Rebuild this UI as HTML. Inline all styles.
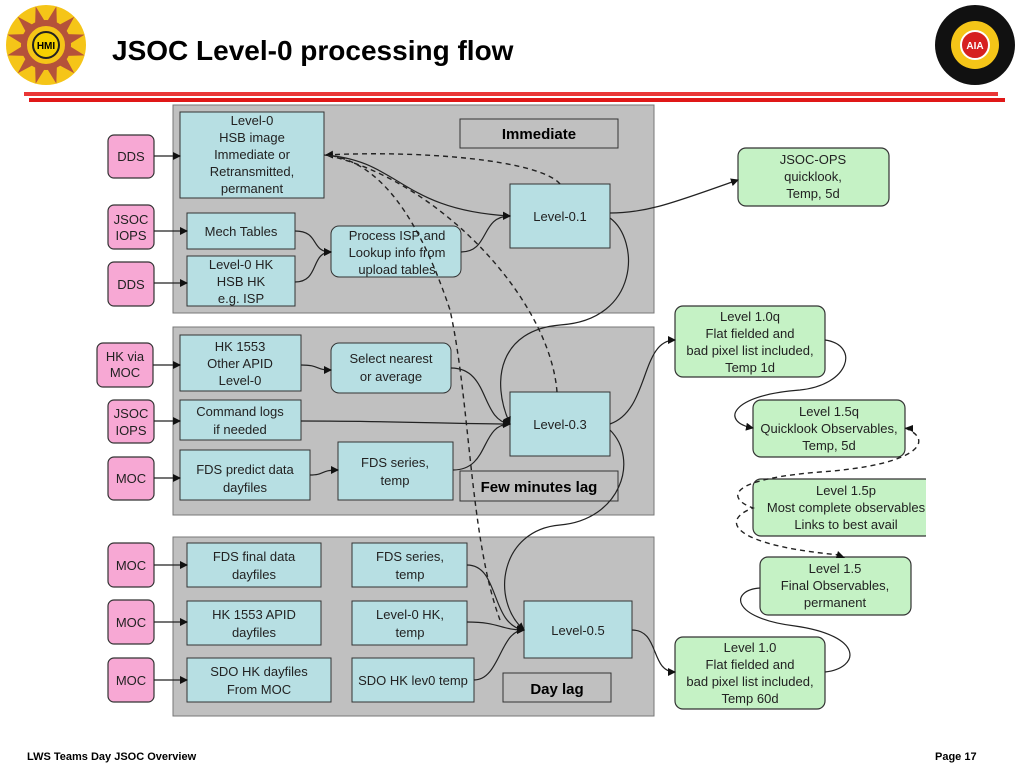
<!DOCTYPE html>
<html><head><meta charset="utf-8"><style>
body{margin:0;background:#fff;}
svg{display:block;font-family:"Liberation Sans",sans-serif;}
</style></head><body>
<svg width="1024" height="768" viewBox="0 0 1024 768" xmlns="http://www.w3.org/2000/svg">
<defs>
<marker id="a" markerWidth="8" markerHeight="8" refX="7" refY="4" orient="auto" markerUnits="userSpaceOnUse"><path d="M0,0 L8,4 L0,8 z" fill="#111"/></marker>
</defs>
<!-- logos -->
<g transform="translate(46,45)">
<circle r="40" fill="#f5c518"/>
<g fill="#b5523a">
<path d="M0,-40 L6,-20 L-6,-20z" transform="rotate(15)"/><path d="M0,-40 L6,-20 L-6,-20z" transform="rotate(45)"/><path d="M0,-40 L6,-20 L-6,-20z" transform="rotate(75)"/><path d="M0,-40 L6,-20 L-6,-20z" transform="rotate(105)"/><path d="M0,-40 L6,-20 L-6,-20z" transform="rotate(135)"/><path d="M0,-40 L6,-20 L-6,-20z" transform="rotate(165)"/><path d="M0,-40 L6,-20 L-6,-20z" transform="rotate(195)"/><path d="M0,-40 L6,-20 L-6,-20z" transform="rotate(225)"/><path d="M0,-40 L6,-20 L-6,-20z" transform="rotate(255)"/><path d="M0,-40 L6,-20 L-6,-20z" transform="rotate(285)"/><path d="M0,-40 L6,-20 L-6,-20z" transform="rotate(315)"/><path d="M0,-40 L6,-20 L-6,-20z" transform="rotate(345)"/>
</g>
<circle r="22" fill="#f5c518" stroke="#b5523a" stroke-width="6"/>
<circle r="13" fill="#f5d000" stroke="#222" stroke-width="2"/>
<text y="4" text-anchor="middle" font-size="10" font-weight="bold">HMI</text>
</g>
<g transform="translate(975,45)">
<circle r="40" fill="#111"/>
<circle r="24" fill="#f5c518"/>
<circle r="14" fill="#d62020" stroke="#fff" stroke-width="2"/>
<text y="4" text-anchor="middle" font-size="10" font-weight="bold" fill="#fff">AIA</text>
</g>
<text x="112" y="60" font-size="28" font-weight="bold" fill="#000">JSOC Level-0 processing flow</text>
<rect x="24" y="92" width="974" height="4" fill="#e82020" opacity="0.9"/>
<rect x="29" y="98" width="976" height="4" fill="#e01818"/>
<!-- panels -->
<g fill="#c0c0c0" stroke="#777" stroke-width="1">
<rect x="173" y="105" width="481" height="208"/>
<rect x="173" y="327" width="481" height="188"/>
<rect x="173" y="537" width="481" height="179"/>
</g>
<!-- pink -->
<g fill="#f7a8d4" stroke="#333" stroke-width="1.2">
<rect x="108" y="135" width="46" height="43" rx="6"/>
<rect x="108" y="205" width="46" height="44" rx="6"/>
<rect x="108" y="262" width="46" height="44" rx="6"/>
<rect x="97" y="343" width="56" height="44" rx="6"/>
<rect x="108" y="400" width="46" height="43" rx="6"/>
<rect x="108" y="457" width="46" height="43" rx="6"/>
<rect x="108" y="543" width="46" height="44" rx="6"/>
<rect x="108" y="600" width="46" height="44" rx="6"/>
<rect x="108" y="658" width="46" height="44" rx="6"/>
</g>
<!-- blue -->
<g fill="#b7dfe3" stroke="#333" stroke-width="1">
<rect x="180" y="112" width="144" height="86"/>
<rect x="187" y="213" width="108" height="36"/>
<rect x="187" y="256" width="108" height="50"/>
<rect x="331" y="226" width="130" height="51" rx="8"/>
<rect x="510" y="184" width="100" height="64"/>
<rect x="180" y="335" width="121" height="56"/>
<rect x="331" y="343" width="120" height="50" rx="8"/>
<rect x="180" y="400" width="121" height="40"/>
<rect x="510" y="392" width="100" height="64"/>
<rect x="180" y="450" width="130" height="50"/>
<rect x="338" y="442" width="115" height="58"/>
<rect x="187" y="543" width="134" height="44"/>
<rect x="352" y="543" width="115" height="44"/>
<rect x="187" y="601" width="134" height="44"/>
<rect x="352" y="601" width="115" height="44"/>
<rect x="187" y="658" width="144" height="44"/>
<rect x="352" y="658" width="122" height="44"/>
<rect x="524" y="601" width="108" height="57"/>
</g>
<g fill="#c0c0c0" stroke="#333" stroke-width="1">
<rect x="460" y="119" width="158" height="29"/>
<rect x="460" y="471" width="158" height="30"/>
<rect x="503" y="673" width="108" height="29"/>
</g>
<!-- green -->
<g fill="#c5f2c5" stroke="#333" stroke-width="1.2">
<rect x="738" y="148" width="151" height="58" rx="8"/>
<rect x="675" y="306" width="150" height="71" rx="8"/>
<rect x="753" y="400" width="152" height="57" rx="8"/>
<rect x="753" y="479" width="180" height="57" rx="8"/>
<rect x="760" y="557" width="151" height="58" rx="8"/>
<rect x="675" y="637" width="150" height="72" rx="8"/>
</g>
<!-- connectors solid -->
<g fill="none" stroke="#222" stroke-width="1.2" marker-end="url(#a)">
<path d="M154,156 L180,156"/>
<path d="M154,231 L187,231"/>
<path d="M154,283 L187,283"/>
<path d="M153,365 L180,365"/>
<path d="M154,421 L180,421"/>
<path d="M154,478 L180,478"/>
<path d="M154,565 L187,565"/>
<path d="M154,622 L187,622"/>
<path d="M154,680 L187,680"/>
<path d="M295,231 C320,231 310,252 331,252"/>
<path d="M295,282 C320,282 310,252 331,252"/>
<path d="M461,252 C490,252 480,216 510,216"/>
<path d="M324,155 C400,160 400,210 510,216"/>
<path d="M610,213 C650,213 680,200 738,180"/>
<path d="M610,218 C640,240 640,320 560,325 C500,330 490,380 510,424"/>
<path d="M301,365 C320,365 315,370 331,370"/>
<path d="M451,368 C490,368 480,420 510,424"/>
<path d="M301,421 C400,421 450,424 510,424"/>
<path d="M310,475 C325,475 320,470 338,470"/>
<path d="M453,470 C490,470 480,424 510,424"/>
<path d="M610,424 C650,410 640,340 675,340"/>
<path d="M610,430 C640,460 620,520 560,525 C500,530 490,600 524,630"/>
<path d="M467,565 C500,565 490,625 524,630"/>
<path d="M467,622 C500,622 500,630 524,630"/>
<path d="M474,680 C500,680 500,630 524,630"/>
<path d="M632,630 C660,630 650,672 675,672"/>
<path d="M825,340 C860,345 850,385 800,390 C730,395 720,422 753,428"/>
<path d="M760,588 C730,590 730,618 795,626 C865,636 860,668 825,672" marker-end="none"/>
</g>
<!-- dashed -->
<g fill="none" stroke="#222" stroke-width="1.4" stroke-dasharray="5,4">
<path d="M560,184 C540,160 420,150 326,155" marker-end="url(#a)"/>
<path d="M557,392 C550,300 440,180 326,155"/>
<path d="M500,620 C470,540 470,400 450,310 C420,220 380,160 326,155"/>
<path d="M905,428 C935,440 920,465 820,472 C720,480 730,500 753,508 C720,520 730,545 840,555" />
</g>
<path d="M913,425 L905,428 L913,432z" fill="#111"/>
<path d="M838,551 L845,558 L836,558z" fill="#111"/>
<!-- text -->
<g font-size="13" fill="#222" text-anchor="middle">
<text x="131" y="161">DDS</text>
<text x="131" y="224">JSOC</text><text x="131" y="240">IOPS</text>
<text x="131" y="289">DDS</text>
<text x="125" y="361">HK via</text><text x="125" y="377">MOC</text>
<text x="131" y="418">JSOC</text><text x="131" y="435">IOPS</text>
<text x="131" y="483">MOC</text>
<text x="131" y="570">MOC</text>
<text x="131" y="627">MOC</text>
<text x="131" y="685">MOC</text>
<text x="252" y="125">Level-0</text><text x="252" y="142">HSB image</text><text x="252" y="159">Immediate or</text><text x="252" y="176">Retransmitted,</text><text x="252" y="193">permanent</text>
<text x="241" y="236">Mech Tables</text>
<text x="241" y="269">Level-0 HK</text><text x="241" y="286">HSB HK</text><text x="241" y="303">e.g. ISP</text>
<text x="397" y="240">Process ISP and</text><text x="397" y="257">Lookup info from</text><text x="397" y="274">upload tables</text>
<text x="560" y="221">Level-0.1</text>
<text x="240" y="351">HK 1553</text><text x="240" y="368">Other APID</text><text x="240" y="385">Level-0</text>
<text x="391" y="363">Select nearest</text><text x="391" y="381">or average</text>
<text x="240" y="416">Command logs</text><text x="240" y="434">if needed</text>
<text x="560" y="429">Level-0.3</text>
<text x="245" y="474">FDS predict data</text><text x="245" y="492">dayfiles</text>
<text x="395" y="467">FDS series,</text><text x="395" y="485">temp</text>
<text x="254" y="561">FDS final data</text><text x="254" y="579">dayfiles</text>
<text x="410" y="561">FDS series,</text><text x="410" y="579">temp</text>
<text x="254" y="619">HK 1553 APID</text><text x="254" y="637">dayfiles</text>
<text x="410" y="619">Level-0 HK,</text><text x="410" y="637">temp</text>
<text x="259" y="676">SDO HK dayfiles</text><text x="259" y="694">From MOC</text>
<text x="413" y="685">SDO HK lev0 temp</text>
<text x="578" y="635">Level-0.5</text>
<text x="813" y="164">JSOC-OPS</text><text x="813" y="181">quicklook,</text><text x="813" y="198">Temp, 5d</text>
<text x="750" y="321">Level 1.0q</text><text x="750" y="338">Flat fielded and</text><text x="750" y="355">bad pixel list included,</text><text x="750" y="372">Temp 1d</text>
<text x="829" y="416">Level 1.5q</text><text x="829" y="433">Quicklook Observables,</text><text x="829" y="450">Temp, 5d</text>
<text x="846" y="495">Level 1.5p</text><text x="846" y="512">Most complete observables</text><text x="846" y="529">Links to best avail</text>
<text x="835" y="573">Level 1.5</text><text x="835" y="590">Final Observables,</text><text x="835" y="607">permanent</text>
<text x="750" y="652">Level 1.0</text><text x="750" y="669">Flat fielded and</text><text x="750" y="686">bad pixel list included,</text><text x="750" y="703">Temp 60d</text>
</g>
<rect x="926" y="470" width="98" height="80" fill="#fff"/>
<g font-weight="bold" fill="#000" text-anchor="middle">
<text x="539" y="139" font-size="15">Immediate</text>
<text x="539" y="492" font-size="15">Few minutes lag</text>
<text x="557" y="694" font-size="15">Day lag</text>
</g>
<text x="27" y="760" font-size="11" font-weight="bold">LWS Teams Day JSOC Overview</text>
<text x="935" y="760" font-size="11" font-weight="bold">Page 17</text>
</svg>
</body></html>
